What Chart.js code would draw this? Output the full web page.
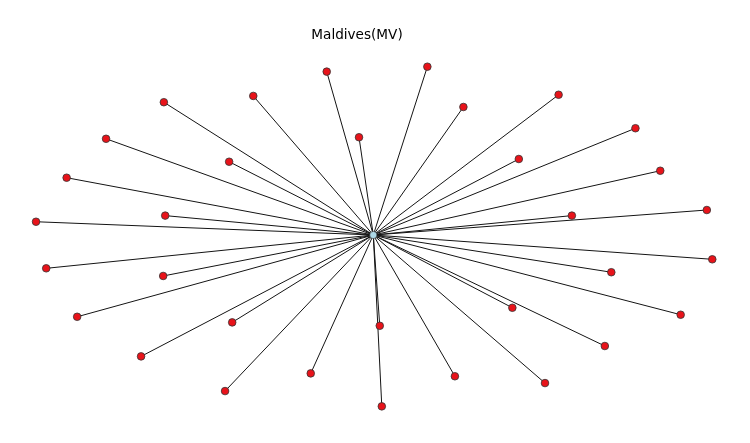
<!DOCTYPE html>
<html>
<head>
<meta charset="utf-8">
<script src="https://cdn.jsdelivr.net/npm/chart.js@4"></script>
<style>
html,body{margin:0;padding:0;background:#fff;}
#wrap{width:750px;height:443px;position:relative;}
</style>
</head>
<body>
<div id="wrap"><canvas id="c" width="750" height="443"></canvas></div>
<script>
const chartTitle = "Maldives(MV)";
const hubName = "MV";
const hubX = 0;
const hubY = 0;
// layout positions of the neighbour nodes
const nodeX = [-0.137,-0.353,-0.616,-0.042,-0.786,-0.424,-0.902,-0.612,-0.992,
  0.159,0.265,0.545,0.771,0.428,0.844,0.584,0.981,
  -0.962,-0.618,-0.871,-0.415,-0.683,-0.184,-0.436,
  0.997,0.700,0.904,0.409,0.681,0.019,0.240,0.505,0.025];
const nodeY = [0.961,0.818,0.781,0.575,0.566,0.431,0.337,0.114,0.078,
  0.990,0.753,0.825,0.628,0.447,0.378,0.114,0.147,
  -0.196,-0.241,-0.481,-0.514,-0.714,-0.814,-0.918,
  -0.143,-0.219,-0.469,-0.428,-0.653,-0.534,-0.831,-0.871,-1.008];

// where the hub sits on the page and how many pixels one layout unit spans
const hubPx = 373.3, hubPy = 235, unitX = 340, unitY = 170;

const leafPoints = nodeX.map((x, i) => ({x: x, y: nodeY[i]}));
const edgeDatasets = leafPoints.map((p, i) => ({
  label: 'edge' + i,
  data: [{x: hubX, y: hubY}, p],
  showLine: true,
  borderColor: '#141414',
  borderWidth: 1,
  pointRadius: 0,
  clip: false,
  order: 2
}));

const chart = new Chart(document.getElementById('c'), {
  type: 'scatter',
  data: {
    datasets: [
      {
        label: hubName,
        data: [{x: hubX, y: hubY}],
        pointRadius: 3.6,
        pointBackgroundColor: '#add8e6',
        pointBorderColor: '#333',
        pointBorderWidth: 0.6,
        clip: false,
        order: 0
      },
      {
        label: 'neighbours',
        data: leafPoints,
        pointRadius: 3.8,
        pointBackgroundColor: '#e8131a',
        pointBorderColor: '#333',
        pointBorderWidth: 0.8,
        clip: false,
        order: 1
      }
    ].concat(edgeDatasets)
  },
  options: {
    responsive: false,
    animation: false,
    devicePixelRatio: 1,
    layout: {padding: {left: 0, right: 36, top: 0, bottom: 0}},
    scales: {
      x: {type: 'linear', display: false, min: -1.098, max: 1.002},
      y: {type: 'linear', display: false, min: -1.2235, max: 1.0788}
    },
    plugins: {
      legend: {display: false},
      tooltip: {enabled: false},
      title: {
        display: true,
        text: chartTitle,
        color: '#000',
        font: {family: 'DejaVu Sans', size: 13.6, weight: 'normal', lineHeight: 1.2},
        padding: {top: 27, bottom: 10}
      }
    }
  }
});

// calibrate the axis ranges to the actual chart area
const a = chart.chartArea;
chart.options.scales.x.min = -(hubPx - a.left) / unitX;
chart.options.scales.x.max = (a.right - hubPx) / unitX;
chart.options.scales.y.max = (hubPy - a.top) / unitY;
chart.options.scales.y.min = -(a.bottom - hubPy) / unitY;
chart.update('none');
</script>
</body>
</html>
